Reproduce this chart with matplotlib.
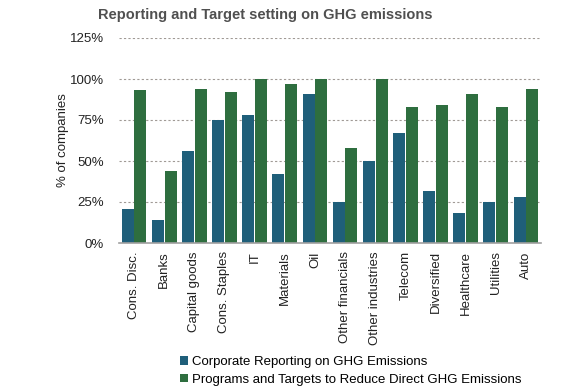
import matplotlib.pyplot as plt
import numpy as np
from matplotlib.ticker import FuncFormatter

plt.rcParams['font.family'] = ['Liberation Sans', 'DejaVu Sans']

sectors = ['Cons. Disc.', 'Banks', 'Capital goods', 'Cons. Staples', 'IT', 'Materials', 'Oil',
           'Other financials', 'Other industries', 'Telecom', 'Diversified', 'Healthcare',
           'Utilities', 'Auto']
reporting = [21, 14, 56, 75, 78, 42, 91, 25, 50, 67, 32, 18, 25, 28]
targets = [93, 44, 94, 92, 100, 97, 100, 58, 100, 83, 84, 91, 83, 94]

blue = '#1f5f7a'
green = '#2e6e3f'
txt = '#222222'

fig = plt.figure(figsize=(5.87, 3.87), dpi=100)
ax = fig.add_axes([119 / 587, 1 - 243 / 387, (541 - 119) / 587, (243 - 38) / 387])

x = np.arange(len(sectors))
w = 0.40
ax.bar(x - w / 2 - 0.01, reporting, width=w, color=blue, label='Corporate Reporting on GHG Emissions')
ax.bar(x + w / 2 + 0.01, targets, width=w, color=green,
       label='Programs and Targets to Reduce Direct GHG Emissions')

ax.set_xlim(-0.5, len(sectors) - 0.5)
ax.set_ylim(0, 125)
ax.set_yticks([0, 25, 50, 75, 100, 125])
ax.yaxis.set_major_formatter(FuncFormatter(lambda v, p: '%d%%' % v))
ax.set_xticks(x)
ax.set_xticklabels(sectors, rotation=90)
ax.tick_params(axis='both', length=0, labelsize=9.5, colors=txt, pad=6)
ax.tick_params(axis='y', pad=11)

for v in [25, 50, 75, 100, 125]:
    ax.axhline(v, color='#a09a95', linestyle=(0, (2, 2)), linewidth=0.8, zorder=0)
for s in ['top', 'right', 'left']:
    ax.spines[s].set_visible(False)
ax.spines['bottom'].set_color('#a0a0a0')
ax.spines['bottom'].set_linewidth(1.2)

ax.set_ylabel('% of companies', fontsize=9.5, color=txt)
ax.yaxis.set_label_coords(-0.118, 0.5)

fig.text(265 / 587, 1 - 15 / 387, 'Reporting and Target setting on GHG emissions', ha='center', va='center',
         fontsize=10.5, fontweight='bold', color='#505050')

fig.legend(loc='upper left', bbox_to_anchor=(180 / 587, 1 - 356 / 387), frameon=False, fontsize=9.5,
           handlelength=0.6, handleheight=0.6, handletextpad=0.3, labelspacing=0.45, borderpad=0,
           borderaxespad=0)

fig.savefig('out.png', dpi=100)
